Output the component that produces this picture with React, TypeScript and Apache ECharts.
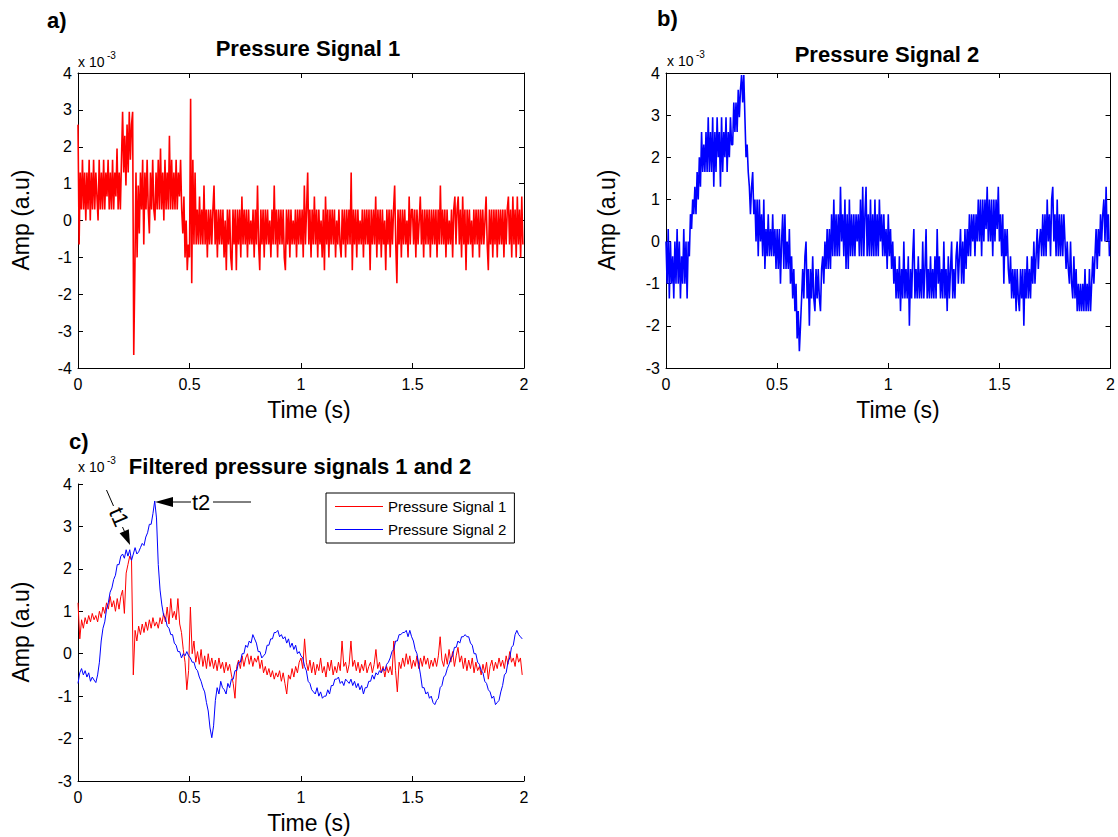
import React, { useEffect, useRef } from "react";
import * as echarts from "echarts";

const FONT = "'Liberation Sans', Arial, Helvetica, sans-serif";

// ---- data (amplitudes in units of 1e-3) ----
const RAW_DT = 0.005; // s
const FILT_DT = 0.008; // s

const SIGNAL1_RAW = [
  2.6, -0.65, 1.3, 0.3, 1.65, 0.3, 1.3, 0, 1.3, 0.3, 1.65, 0, 1.3, 0.3, 1.65, 0.3, 1.3, 0.65, 0, 1.65,
  0.3, 1.3, 0.3, 1.65, 0.3, 1.3, 0.65, 1.65, 0.3, 1.3, 0.3, 1.65, 0.3, 1.3, 0.65, 1.95, 0.3, 1.3, 0.3, 1.65,
  2.95, 1.3, 2.3, 0.95, 2.6, 1.3, 2.95, 1.65, 2.6, 2.95, -3.65, -1.35, 1.3, -1.0, 0.95, -0.35, 1.3, 0.3, 1.65, -0.65,
  1.3, 0.3, 1.65, 0.3, -0.35, 1.3, 0.3, 1.65, 0.3, 0, 1.3, 0.3, 1.65, 0.3, 1.95, 0.3, 1.3, 0, 1.65, 0.3,
  1.3, 0.3, 2.3, 0.3, 1.65, 0.3, 1.3, 0.3, 1.65, 0.3, 1.3, 0.65, 1.65, 0.3, -0.35, 0.65, -1.0, 0, -1.35, -0.65,
  -1.0, 3.3, -1.7, 1.65, -0.65, 1.3, -0.65, 0.3, -0.65, 0.65, -0.65, 0.3, -0.65, 0.95, -0.65, 0.3, -1.0, 0.3, -0.65, 0.3,
  -0.65, 0.3, 0.95, -0.65, 0.3, -1.0, 0.3, -0.65, 0.3, -0.65, 0.3, -1.0, 0, -1.35, 0.3, -0.65, 0.3, -1.0, -1.35, 0.3,
  -0.65, 0.3, -1.35, 0.3, -0.65, 0.3, -1.0, 0.65, -0.65, 0.3, -0.65, 0.3, -1.0, 0.3, -0.65, 0, -0.65, 0.3, -1.0, 0.3,
  -0.65, 0.95, -0.65, -1.35, 0.3, -0.65, 0.3, -1.0, 0.3, -0.65, 0.3, -0.65, 0, -1.0, 0.3, -0.65, 0.95, -0.65, 0.3, -1.0,
  0.3, -0.65, 0.3, -0.65, 0.3, -1.0, -1.35, 0.3, -0.65, 0.3, -1.0, 0.3, -0.65, 0, -0.65, 0.3, -1.0, 0.3, -0.65, 0.3,
  -0.65, 0.3, -1.0, 0.95, -0.65, 0.3, 1.3, -0.65, 0.3, -1.0, 0.3, -0.65, 0.65, -0.65, 0.3, -1.0, 0.3, -0.65, 0, -1.0,
  0.3, -1.35, 0.65, -0.65, 0.3, -1.0, 0.3, -0.65, 0.3, -0.65, 0.3, -1.0, 0, -0.65, 0.3, -0.65, -1.0, 0.3, -0.65, 0.3,
  -1.0, 0.3, -0.65, 0.3, -0.65, 1.3, -1.35, 0.3, -0.65, 0.3, -1.0, 0.3, -0.65, 0, -0.65, 0.3, -1.0, 0.3, -0.65, 0.3,
  -0.65, 0.3, -1.35, 0.3, -0.65, 0.3, -0.65, 0.65, -1.0, 0.3, -0.65, 0.3, -1.0, 0.3, -0.65, 0, -1.35, 0.3, -0.65, 0.3,
  -1.0, 0.3, -0.65, 0.3, 0.95, -0.65, -1.7, 0.3, -0.65, 0.3, -1.0, 0.3, -0.65, 0.3, -0.65, 0, -1.0, 0.65, -0.65, 0.3,
  0.3, -0.65, 0.3, -1.0, 0.3, -0.65, 0, 0.65, -0.65, 0.3, -1.0, 0.3, -0.65, 0.3, -0.65, 0.3, -1.0, 0.3, -0.65, 0.3,
  -0.65, 0.3, -1.0, 0.3, -0.65, 0.95, -0.65, 0.3, -0.65, 0.3, -1.0, 0.3, -0.65, 0, -0.65, 0.3, -1.0, 0.3, 0.65, -0.65,
  0.3, 0.65, -0.65, 0.3, -1.0, 0.65, -0.65, 0.3, -1.35, 0.3, -0.65, 0.3, -0.65, 0, -1.0, 0.3, -0.65, 0.3, -0.65, 0.3,
  -1.0, 0.3, -0.65, 0.3, -0.65, 0, 0.65, -0.65, -1.35, 0.3, -0.65, 0.3, -1.0, 0.3, -0.65, 0.3, -1.0, 0.3, -0.65, 0.3,
  -0.65, 0.3, -1.0, 0.3, -0.65, 0.3, 0.65, -0.65, 0.3, -1.0, 0.65, -0.65, 0.3, -1.0, 0.65, -0.65, 0.3, -1.0, 0.65, -0.65,
];

const SIGNAL2_RAW = [
  0, -1.0, 0.3, -1.35, 0, -1.0, -0.35, -1.35, 0, -1.0, 0.3, -1.0, 0, -1.35, -0.35, -1.0, 0.3, -1.0, 0, -1.35,
  0, -0.35, 0.65, 0.3, 1.0, 0.65, 1.3, 0.65, 1.65, 1.0, 2.0, 1.3, 2.6, 1.65, 2.3, 1.65, 2.6, 1.65, 2.95, 1.65,
  2.6, 1.65, 2.95, 1.3, 2.6, 1.65, 2.95, 2.0, 2.6, 1.3, 2.95, 1.65, 2.6, 2.0, 2.95, 1.65, 2.6, 2.0, 2.95, 2.3,
  2.3, 3.3, 2.6, 3.3, 2.6, 3.6, 2.95, 3.6, 3.95, 3.3, 3.95, 2.95, 2.0, 2.3, 1.65, 1.3, 0.65, 1.3, 1.65, 0.65,
  1.0, 0, 1.0, -0.35, 1.0, 0, 0.65, -0.35, 1.0, -0.65, 0.3, -0.35, 0.65, -0.35, 0.3, -0.35, 0.65, -0.35, 0.3, -0.65,
  0.3, -0.65, 0.3, -1.0, 0, 0.65, -0.65, 0.65, -0.65, 0, -0.65, 0.3, -1.0, -0.35, -1.35, -0.65, -1.65, -1.0, -2.3, -1.65,
  -2.6, -2.0, -1.35, -0.65, -1.35, -0.35, 0, -1.35, -0.65, -2.0, -0.65, -1.35, -0.35, -1.35, -1.65, -0.65, -1.35, -0.65, -1.35, -1.65,
  -0.65, -0.35, -1.0, 0, -0.65, 0.3, -0.65, 0.3, -0.65, 0.65, -0.35, 1.0, -0.35, 0.65, -0.35, 0.65, -0.35, 1.3, 0, 0.65,
  -0.35, 1.0, -0.65, 0.65, -0.65, 1.0, -0.35, 0.65, -0.35, 0.65, -0.35, 0.65, 0, 0.65, -0.35, 1.0, -0.35, 1.3, -0.35, 0.65,
  1.3, -0.35, 0.65, -0.35, 1.0, -0.35, 0.65, -0.35, 1.0, -0.35, 0.65, -0.35, 1.0, 0, 0.65, -0.35, 0.65, -0.35, 0.3, -0.65,
  0.65, -0.35, 0.3, -0.65, 0, -1.0, -0.35, -1.35, -0.65, -1.35, -0.35, -1.65, -0.65, -1.35, 0, -1.35, -0.65, -1.35, -0.35, -2.0,
  -0.65, -1.35, -0.35, 0.3, -1.35, -0.65, -1.35, -0.35, -1.35, -0.65, -1.35, 0, -1.35, -0.65, 0.3, -1.35, -0.65, -1.35, -0.35, -1.35,
  -0.65, -1.35, -0.35, -1.35, 0.3, -1.0, -0.35, -1.35, -0.65, -1.35, 0, -1.35, -0.65, -1.65, -0.35, -1.35, -0.65, 0, -1.35, -0.65,
  -1.35, -0.35, 0, -1.0, -0.35, 0.3, -1.0, 0, -1.0, 0.3, -0.65, 0.3, -0.35, 0.65, -0.35, 0.65, 0, 0.65, -0.35, 0.65,
  0, 1.0, 0, 1.0, -0.35, 1.0, 0, 1.0, 0.3, 1.3, 0, 1.0, 0, 1.0, -0.35, 1.0, 0, 1.0, 0.3, 1.3,
  0, 0.65, -0.35, 0.65, -1.0, 0.3, -0.35, 0.3, -0.65, -1.0, -0.35, -1.35, -0.65, -1.35, -0.65, -1.65, -0.65, -1.35, -1.65, -0.65,
  -1.35, -0.65, -2.0, -0.65, -1.35, -0.35, -1.35, -0.65, -1.35, -0.35, -1.0, 0, -1.0, -0.35, 0.3, -0.65, 0, 0.3, -0.35, 0.65,
  -0.35, 0.65, -0.35, 1.0, 0, 0.65, -0.35, 1.0, 1.3, 0, 0.65, -0.35, 1.0, -0.35, 0.65, -0.35, 0.65, -0.35, 0.65, 0,
  -0.65, 0, -0.65, -1.0, 0, -1.0, -1.35, -0.35, -1.35, -0.65, -1.65, -1.0, -1.65, -1.0, -1.65, -1.0, -1.65, -0.65, -1.65, -1.0,
  -1.65, -0.65, -1.65, -1.0, -0.35, -1.0, -0.35, 0.3, -0.65, 0.3, -0.35, 0.65, 0, 0.65, 1.0, 0, 1.3, 0, 0.65, -0.35,
];

const SIGNAL1_FILTERED = [
  1.2, 0.35, 0.8, 0.6, 0.85, 0.7, 0.9, 0.75, 0.95, 0.8, 0.9, 0.75, 1.0, 0.85, 1.1, 0.95, 1.2, 1.05, 1.35, 1.1, 1.25, 1.0, 1.3, 1.05, 1.35,
  1.5, 0.95, 1.9, 2.1, 2.3, 2.2, -0.5, 0.55, 0.3, 0.65, 0.45, 0.7, 0.5, 0.75, 0.55, 0.8, 0.6, 0.85, 0.65, 0.75, 0.6, 0.85, 0.7, 0.95, 0.75,
  1.1, 0.7, 1.3, 0.85, 1.0, 0.8, 1.3, 0.7, 0.5, 0.1, -0.2, -0.85, -0.4, 1.1, 0.0, 0.3, -0.2, 0.05, -0.25, 0.1, -0.3, -0.05, -0.35, 0.0, -0.3,
  -0.1, -0.35, -0.15, -0.4, -0.1, -0.35, -0.2, -0.45, -0.2, -0.4, -0.25, -0.5, -0.7, -1.05, -0.3, -0.15, -0.35, -0.05, -0.3, -0.1, 0.0, -0.25, -0.05, -0.3, -0.1,
  -0.2, -0.05, -0.35, -0.15, -0.45, -0.3, -0.5, -0.35, -0.55, -0.4, -0.6, -0.45, -0.55, -0.4, -0.65, -0.45, -0.7, -0.95, -0.5, -0.6, -0.35, -0.55, -0.3, -0.45, -0.2,
  -0.1, -0.35, 0.35, -0.2, -0.4, -0.15, -0.45, -0.2, -0.5, -0.25, -0.4, -0.1, -0.45, -0.3, -0.55, -0.2, -0.4, -0.15, -0.5, -0.3, -0.45, -0.2, -0.4, 0.3, -0.3,
  -0.2, -0.45, -0.25, 0.3, -0.3, -0.15, -0.4, -0.2, -0.45, -0.25, -0.4, -0.15, -0.45, -0.3, -0.2, -0.45, -0.25, 0.1, -0.35, -0.2, -0.45, -0.3, -0.55, -0.3, -0.45,
  -0.3, -0.5, 0.3, -0.4, -0.9, -0.2, -0.35, -0.1, -0.3, 0.0, -0.25, -0.05, -0.35, -0.15, -0.3, -0.05, -0.35, -0.1, -0.3, -0.05, -0.25, -0.1, -0.35, -0.15, -0.3,
  -0.1, -0.3, -0.05, 0.4, -0.15, -0.3, 0.0, -0.25, 0.1, -0.2, 0.05, -0.3, -0.05, 0.15, -0.2, -0.05, -0.35, -0.1, -0.4, -0.15, -0.35, -0.1, -0.45, -0.2, -0.4,
  -0.3, -0.5, -0.25, -0.45, -0.2, -0.6, -0.3, -0.15, -0.4, -0.2, -0.35, -0.1, -0.3, -0.15, -0.35, -0.05, -0.25, 0.05, -0.2, -0.1, -0.3, 0.0, -0.2, -0.1, -0.5,
];

const SIGNAL2_FILTERED = [
  -0.7, -0.45, -0.35, -0.5, -0.4, -0.55, -0.45, -0.65, -0.55, -0.62, -0.68, -0.5, -0.2, 0.3, 0.6, 0.75, 1.05, 1.2, 1.45, 1.55, 1.75, 1.85, 2.1, 2.1, 2.3,
  2.35, 2.25, 2.45, 2.3, 2.45, 2.2, 2.35, 2.5, 2.35, 2.4, 2.5, 2.6, 2.55, 2.75, 2.85, 3.05, 3.05, 3.3, 3.6, 3.2, 2.1, 1.5, 1.15, 0.9, 0.85,
  0.65, 0.6, 0.45, 0.45, 0.25, 0.2, 0.05, 0.05, -0.1, 0.0, -0.05, 0.05, -0.05, -0.1, -0.2, -0.2, -0.35, -0.4, -0.55, -0.65, -0.8, -0.9, -1.15, -1.35, -1.75,
  -1.98, -1.7, -1.1, -0.8, -0.95, -0.65, -0.8, -0.85, -0.95, -0.7, -0.8, -0.6, -0.6, -0.4, -0.4, -0.2, -0.2, 0.0, 0.0, 0.2, 0.15, 0.3, 0.25, 0.45, 0.35,
  0.25, 0.05, 0.05, -0.1, -0.05, 0.0, 0.2, 0.2, 0.35, 0.35, 0.5, 0.5, 0.55, 0.4, 0.45, 0.35, 0.4, 0.25, 0.35, 0.15, 0.25, 0.1, 0.2, 0.0, 0.05,
  -0.05, -0.1, -0.3, -0.4, -0.65, -0.7, -0.85, -0.9, -0.95, -0.8, -1.0, -0.9, -1.05, -1.0, -1.0, -0.85, -0.95, -0.75, -0.75, -0.6, -0.6, -0.55, -0.7, -0.65, -0.75,
  -0.6, -0.65, -0.7, -0.6, -0.75, -0.65, -0.8, -0.7, -0.85, -0.75, -0.95, -0.8, -0.8, -0.65, -0.65, -0.5, -0.6, -0.45, -0.5, -0.4, -0.45, -0.35, -0.4, -0.25, -0.2,
  -0.1, 0.05, 0.1, 0.3, 0.3, 0.45, 0.45, 0.5, 0.5, 0.55, 0.4, 0.55, 0.4, 0.3, 0.1, 0.0, -0.25, -0.5, -0.8, -0.8, -0.95, -0.9, -1.05, -1.0, -1.15,
  -1.2, -1.1, -1.05, -0.8, -0.75, -0.55, -0.5, -0.35, -0.25, -0.1, -0.05, 0.15, 0.15, 0.3, 0.25, 0.4, 0.4, 0.45, 0.4, 0.4, 0.25, 0.2, 0.0, 0.0, -0.2,
  -0.25, -0.4, -0.45, -0.65, -0.7, -0.85, -0.9, -1.05, -1.0, -1.2, -1.15, -1.1, -0.9, -0.75, -0.5, -0.45, -0.2, -0.1, 0.15, 0.2, 0.45, 0.55, 0.45, 0.4, 0.35,
];

const X_MIN = 0;
const X_MAX = 2;
const X_INTERVAL = 0.5;
const Y_RANGE_A = [-4, 4];
const Y_RANGE_B = [-3, 4];
const Y_RANGE_C = [-3, 4];

const PANEL_LETTERS = ["a)", "b)", "c)"];
const PANEL_TITLES = ["Pressure Signal 1", "Pressure Signal 2", "Filtered pressure signals 1 and 2"];
const SERIES_NAMES = ["Pressure Signal 1", "Pressure Signal 2"];
const X_NAME = "Time (s)";
const Y_NAME = "Amp (a.u)";
const EXP_BASE = "x 10";
const EXP_POWER = "-3";
const ANNOT_T1 = "t1";
const ANNOT_T2 = "t2";

const RED = "#ff0000";
const BLUE = "#0000ff";

function toPairs(values: number[], dt: number) {
  return values.map((v, i) => [+(i * dt).toFixed(4), v]);
}

const AXIS_LINE = { show: true, onZero: false, lineStyle: { color: "#000", width: 1 } };
const AXIS_TICK = { show: true, inside: true, length: 5, lineStyle: { color: "#000", width: 1 } };
const LABEL = { color: "#000", fontSize: 16, fontFamily: FONT };

function xAxisPair(gridIndex: number, withTop: boolean) {
  const axes: any[] = [
    {
      gridIndex, type: "value", min: X_MIN, max: X_MAX, interval: X_INTERVAL, position: "bottom",
      axisLine: AXIS_LINE, axisTick: AXIS_TICK, splitLine: { show: false },
      axisLabel: { ...LABEL, margin: 8 },
    },
  ];
  if (withTop) {
    axes.push({
      gridIndex, type: "value", min: X_MIN, max: X_MAX, interval: X_INTERVAL, position: "top",
      axisLine: AXIS_LINE, axisTick: AXIS_TICK, splitLine: { show: false }, axisLabel: { show: false },
    });
  }
  return axes;
}

function yAxisPair(gridIndex: number, range: number[], withRight: boolean) {
  const axes: any[] = [
    {
      gridIndex, type: "value", min: range[0], max: range[1], interval: 1, position: "left",
      axisLine: AXIS_LINE, axisTick: AXIS_TICK, splitLine: { show: false },
      axisLabel: { ...LABEL, margin: 6 },
    },
  ];
  if (withRight) {
    axes.push({
      gridIndex, type: "value", min: range[0], max: range[1], interval: 1, position: "right",
      axisLine: AXIS_LINE, axisTick: AXIS_TICK, splitLine: { show: false }, axisLabel: { show: false },
    });
  }
  return axes;
}

function text(x: number, y: number, str: string, fontSize: number, opts: any = {}) {
  return {
    type: "text",
    x,
    y,
    rotation: opts.rotation || 0,
    z: 100,
    style: {
      text: str,
      fontSize,
      fontFamily: FONT,
      fontWeight: opts.bold ? "bold" : "normal",
      fill: "#000",
      textAlign: opts.align || "center",
      textVerticalAlign: "middle",
    },
  };
}

function seg(x1: number, y1: number, x2: number, y2: number) {
  return { type: "line", z: 100, shape: { x1, y1, x2, y2 }, style: { stroke: "#000", lineWidth: 1 } };
}

function tri(points: number[][]) {
  return { type: "polygon", z: 100, shape: { points }, style: { fill: "#000" } };
}

function exponent(x: number, y: number) {
  return [text(x, y, EXP_BASE, 14, { align: "left" }), text(x + 29, y - 7, EXP_POWER, 10, { align: "left" })];
}

export default function App() {
  const ref = useRef<HTMLDivElement>(null);

  useEffect(() => {
    document.body.style.margin = "0";
    if (!ref.current) return;
    const chart = echarts.init(ref.current, undefined, { renderer: "svg" });

    const line = (name: string, xi: number, yi: number, data: any[], color: string, width: number) => ({
      type: "line",
      name,
      xAxisIndex: xi,
      yAxisIndex: yi,
      data,
      showSymbol: false,
      symbol: "none",
      lineStyle: { color, width },
      itemStyle: { color },
      emphasis: { disabled: true },
    });

    const option: any = {
      animation: false,
      textStyle: { fontFamily: FONT },
      grid: [
        { left: 78, top: 73, width: 446, height: 295 },
        { left: 666, top: 73, width: 446, height: 295 },
        { left: 78, top: 484, width: 446, height: 297 },
      ],
      xAxis: [...xAxisPair(0, true), ...xAxisPair(1, true), ...xAxisPair(2, false)],
      yAxis: [...yAxisPair(0, Y_RANGE_A, true), ...yAxisPair(1, Y_RANGE_B, true), ...yAxisPair(2, Y_RANGE_C, false)],
      legend: {
        data: SERIES_NAMES,
        orient: "vertical",
        left: 326,
        top: 493,
        padding: [6, 8, 6, 9],
        itemGap: 8,
        itemWidth: 48,
        itemHeight: 1,
        icon: "rect",
        selectedMode: false,
        borderColor: "#000",
        borderWidth: 1,
        borderRadius: 0,
        backgroundColor: "#fff",
        textStyle: { fontSize: 15, fontFamily: FONT, color: "#000" },
      },
      series: [
        line("Raw " + SERIES_NAMES[0], 0, 0, toPairs(SIGNAL1_RAW, RAW_DT), RED, 1.6),
        line("Raw " + SERIES_NAMES[1], 2, 2, toPairs(SIGNAL2_RAW, RAW_DT), BLUE, 1.6),
        line(SERIES_NAMES[0], 4, 4, toPairs(SIGNAL1_FILTERED, FILT_DT), RED, 1),
        line(SERIES_NAMES[1], 4, 4, toPairs(SIGNAL2_FILTERED, FILT_DT), BLUE, 1),
      ],
      graphic: {
        elements: [
          text(47, 20, PANEL_LETTERS[0], 22, { bold: true, align: "left" }),
          text(657, 18, PANEL_LETTERS[1], 22, { bold: true, align: "left" }),
          text(69, 441, PANEL_LETTERS[2], 22, { bold: true, align: "left" }),
          text(308, 48, PANEL_TITLES[0], 22, { bold: true }),
          text(887, 54, PANEL_TITLES[1], 22, { bold: true }),
          text(300, 466, PANEL_TITLES[2], 22, { bold: true }),
          ...exponent(78, 62),
          ...exponent(667, 61),
          ...exponent(78, 467),
          text(309, 410, X_NAME, 23),
          text(898, 410, X_NAME, 23),
          text(309, 823, X_NAME, 23),
          text(21, 220, Y_NAME, 23, { rotation: Math.PI / 2 }),
          text(607, 220, Y_NAME, 23, { rotation: Math.PI / 2 }),
          text(21, 632, Y_NAME, 23, { rotation: Math.PI / 2 }),
          // t2 text arrow
          tri([[155, 502], [173, 497], [173, 507]]),
          seg(173, 502, 191, 502),
          text(192, 502, ANNOT_T2, 22, { align: "left" }),
          seg(213, 502, 251, 502),
          // t1 text arrow
          seg(106.5, 490, 113.5, 506),
          text(119, 517, ANNOT_T1, 22, { rotation: -1.17 }),
          seg(122.5, 527, 124.5, 531.5),
          tri([[130, 545], [128.8, 529.3], [119.6, 533.2]]),
        ],
      },
    };

    chart.setOption(option);
    return () => chart.dispose();
  }, []);

  return <div ref={ref} style={{ position: "absolute", left: 0, top: 0, width: 1118, height: 837 }} />;
}
